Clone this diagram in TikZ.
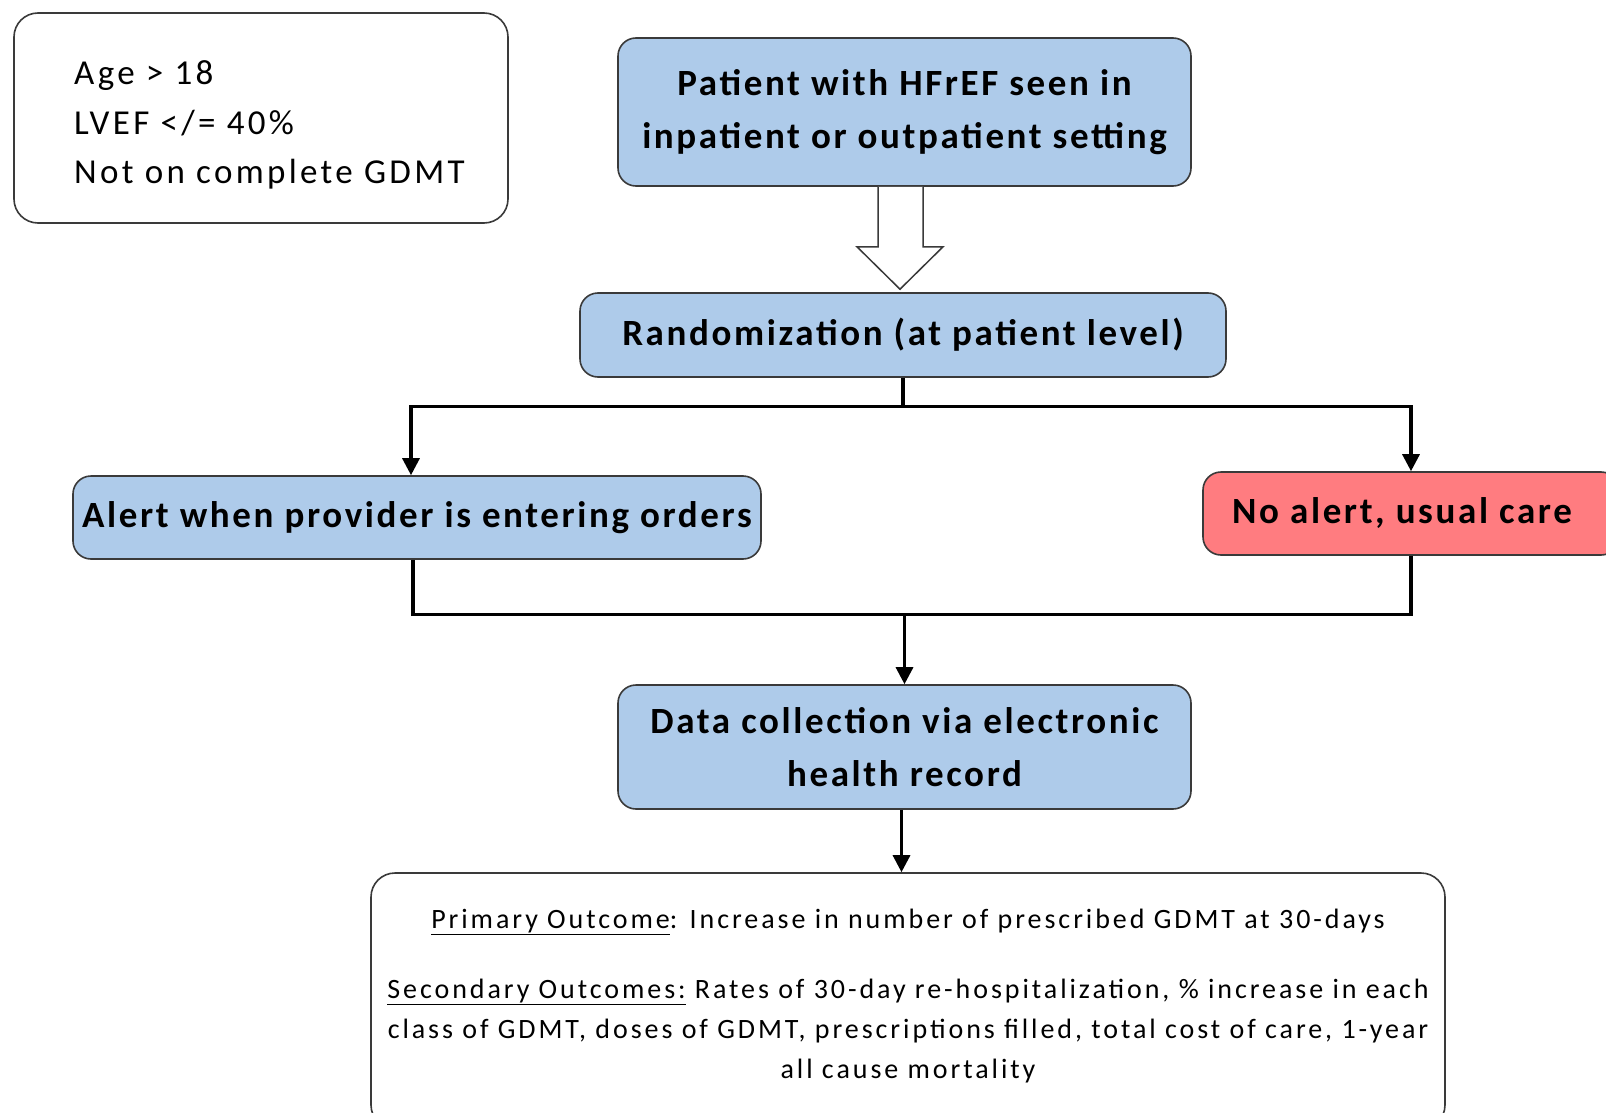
\documentclass[tikz,border=0pt]{standalone}
\usepackage{fontspec}
\setmainfont{Carlito}
\newfontfamily\boxfont[LetterSpace=7.1]{Carlito}
\newfontfamily\critfont[LetterSpace=9.5]{Carlito}
\newfontfamily\outfont[LetterSpace=10.5]{Carlito}
\usetikzlibrary{arrows.meta,calc}
\definecolor{boxblue}{HTML}{AECBEA}
\definecolor{boxred}{HTML}{FF7C80}
\definecolor{edgegray}{HTML}{3A3A3A}
\begin{document}
\begin{tikzpicture}[x=1pt,y=-1pt,
  flowbox/.style={draw=edgegray, line width=1.6pt, rounded corners=18pt,
    inner sep=0pt, align=center, font=\boxfont\fontsize{37}{53}\selectfont\bfseries},
  bluebox/.style={flowbox, fill=boxblue},
  redbox/.style={flowbox, fill=boxred},
  whitebox/.style={draw=edgegray, line width=1.6pt, rounded corners=24pt, fill=white},
  conn/.style={line width=3.2pt, black},
  arr/.style={conn, -{Triangle[length=17pt, width=17pt]}},
]
\useasboundingbox (0,0) rectangle (1606,1113);
\clip (0,0) rectangle (1606,1113);
\fill[white] (0,0) rectangle (1606,1113);

% inclusion criteria
\node[whitebox, minimum width=494pt, minimum height=210pt] (crit) at (261,118) {};
\node[anchor=west, align=left, inner sep=0pt, font=\critfont\fontsize{35}{49.5}\selectfont] (crittext) at (74,125)
  {Age > 18\\LVEF </= 40\%\\Not on complete GDMT};

% main flow
\node[bluebox, minimum width=573pt, minimum height=148pt] (pat) at (904.5,112)
  {Patient with HFrEF seen in\\inpatient or outpatient setting};
\node[bluebox, minimum width=646pt, minimum height=84pt] (rand) at (903,335)
  {Randomization (at patient level)};
\node[bluebox, minimum width=688pt, minimum height=83pt] (alert) at (417,517.5)
  {Alert when provider is entering orders};
\node[redbox, minimum width=416pt, minimum height=83pt] (noalert) at (1411,513.5)
  {\hspace*{-18pt}No alert, usual care};
\node[bluebox, minimum width=573pt, minimum height=124pt] (data) at (904.5,747)
  {Data collection via electronic\\health record};
\node[whitebox, minimum width=1074pt, minimum height=256pt, inner sep=0pt] (out) at (908,1001) {};
\node[align=center, inner sep=0pt, font=\outfont\fontsize{28}{40}\selectfont] (outtext) at (908,996)
  {\underline{Primary Outcome}: Increase in number of prescribed GDMT at 30-days\\[30pt]
   \underline{Secondary Outcomes:} Rates of 30-day re-hospitalization, \% increase in each\\
   class of GDMT, doses of GDMT, prescriptions filled, total cost of care, 1-year\\
   all cause mortality};

% hollow block arrow into randomization
\draw[draw=edgegray, line width=1.5pt, fill=white]
  ($(pat.south)+(-26.5,0)$) -- ++(0,60) -- ++(-21,0) -- ($(rand.north)+(-3,-3)$)
  -- ($(pat.south)+(38.5,60)$) -- ++(-20,0) -- ++(0,-60);

% split to the two arms
\draw[conn] (rand.south) -- ++(0,29) coordinate (split);
\draw[arr] (split) -| ([xshift=-6pt]alert.north);
\draw[arr] (split) -| (noalert.north);

% merge back
\draw[conn] ([xshift=-4pt]alert.south) -- ++(0,55) coordinate (merge) -| (noalert.south);
\draw[arr] (merge -| data.north) -- (data.north);
\draw[arr] ([xshift=-3pt]data.south) -- ([xshift=-3pt]data.south |- out.north);
\end{tikzpicture}
\end{document}
